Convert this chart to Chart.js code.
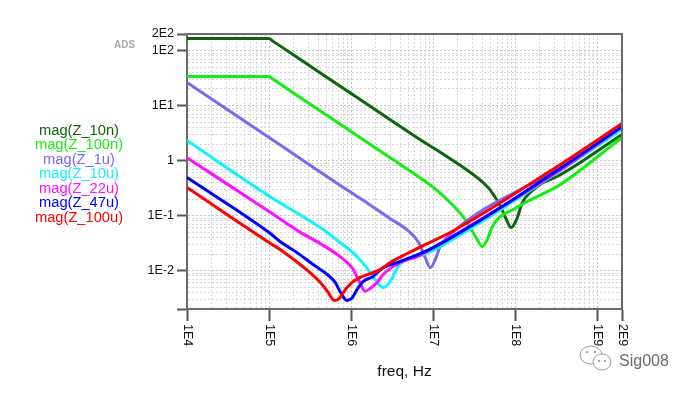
<!DOCTYPE html>
<html>
<head>
<meta charset="utf-8">
<script src="https://cdn.jsdelivr.net/npm/chart.js@4.4.1/dist/chart.umd.min.js"></script>
<style>
  html, body { margin: 0; padding: 0; background: #ffffff; }
  #wrap { width: 692px; height: 394px; }
</style>
</head>
<body>
<div id="wrap"><canvas id="chart" width="692" height="394"></canvas></div>
<script>
/* ADS style |Z| plot of decoupling caps */

// Trace names + colors (legend order)
const traceNames = ["mag(Z_10n)", "mag(Z_100n)", "mag(Z_1u)", "mag(Z_10u)", "mag(Z_22u)", "mag(Z_47u)", "mag(Z_100u)"];
const traceColors = ["#0d640d", "#12ee12", "#7b68ee", "#10f2ff", "#ff10ff", "#0000ff", "#ff0000"];

// freq (Hz) and |Z| (ohm)
const freq10n = [1e4, 1e5, 1.1e5, 3e5, 1e6, 3e6, 6.9e6, 1.22e7, 2.13e7, 3.44e7, 4.96e7, 6.56e7, 7.56e7, 8.94e7, 1.06e8, 1.22e8, 1.52e8, 2.19e8, 3.25e8, 2e9];
const mag10n = [165, 165, 150, 55, 16.5, 5.5, 2.41, 1.42, 0.82, 0.49, 0.29, 0.15, 0.094, 0.0605, 0.092, 0.172, 0.262, 0.398, 0.512, 2.97];

const freq100n = [1e4, 1e5, 1.1e5, 3e5, 1e6, 3e6, 6.9e6, 1.12e7, 1.75e7, 2.32e7, 2.83e7, 3.44e7, 3.96e7, 4.56e7, 5.25e7, 6.56e7, 9.46e7, 1.4e8, 2.46e8, 3.25e8, 2e9];
const mag100n = [33.7, 33.7, 30.6, 11.2, 3.37, 1.12, 0.488, 0.285, 0.152, 0.095, 0.0605, 0.0366, 0.0273, 0.0366, 0.063, 0.096, 0.129, 0.18, 0.273, 0.337, 2.62];

const freq1u = [1e4, 1e5, 1e6, 1.4e6, 2.99e6, 4.82e6, 6.66e6, 8.0e6, 9.2e6, 1.06e7, 1.22e7, 1.61e7, 3.25e8, 2e9];
const mag1u = [26.2, 2.62, 0.262, 0.19, 0.0877, 0.055, 0.0323, 0.0172, 0.0113, 0.0158, 0.0273, 0.0452, 0.686, 3.82];

const freq10u = [1e4, 1e5, 4.56e5, 7.3e5, 1.06e6, 1.4e6, 1.71e6, 2.08e6, 2.46e6, 2.99e6, 3.73e6, 4.31e6, 7.55e6, 1.22e7, 3.25e8, 2e9];
const mag10u = [2.31, 0.226, 0.0556, 0.0323, 0.021, 0.0135, 0.0092, 0.0061, 0.0049, 0.0063, 0.0118, 0.0146, 0.0195, 0.0273, 0.605, 3.66];

const freq22u = [1e4, 1e5, 2.39e5, 4.19e5, 7.3e5, 1.03e6, 1.22e6, 1.48e6, 1.71e6, 2.08e6, 2.46e6, 3.96e6, 6.4e6, 1e7, 3.25e8, 2e9];
const mag22u = [1.13, 0.118, 0.05, 0.031, 0.018, 0.0112, 0.007, 0.0042, 0.0047, 0.0061, 0.0085, 0.014, 0.018, 0.0262, 0.62, 4.15];

const freq47u = [1e4, 1e5, 1.36e5, 2.19e5, 3.44e5, 5.1e5, 6.4e5, 7.3e5, 8.5e5, 8.9e5, 1.03e6, 1.18e6, 1.4e6, 1.85e6, 2.46e6, 3.96e6, 1e7, 3.25e8, 2e9];
const mag47u = [0.491, 0.0491, 0.0337, 0.0212, 0.0129, 0.0085, 0.0061, 0.0042, 0.00297, 0.00285, 0.0032, 0.0045, 0.0063, 0.0078, 0.0113, 0.0146, 0.0262, 0.66, 4.15];

const freq100u = [1e4, 1e5, 1.36e5, 2.39e5, 3.16e5, 4.19e5, 5.25e5, 6.0e5, 6.4e5, 7.3e5, 8.5e5, 1.03e6, 1.29e6, 1.71e6, 2.26e6, 2.99e6, 4.82e6, 7.55e6, 1.61e7, 3.25e8, 2e9];
const mag100u = [0.323, 0.0323, 0.0241, 0.0129, 0.0092, 0.0061, 0.004, 0.00297, 0.00285, 0.0032, 0.0045, 0.0061, 0.0075, 0.0088, 0.0104, 0.014, 0.0204, 0.0285, 0.0491, 0.778, 4.71];

// Axis ticks (labelled ones)
const xTickValues = [1e4, 1e5, 1e6, 1e7, 1e8, 1e9, 2e9];
const xTickLabels = ["1E4", "1E5", "1E6", "1E7", "1E8", "1E9", "2E9"];
const yTickValues = [2e2, 1e2, 1e1, 1, 1e-1, 1e-2, 2e-3];
const yTickLabels = ["2E2", "1E2", "1E1", "1", "1E-1", "1E-2", ""];

const freqs = [freq10n, freq100n, freq1u, freq10u, freq22u, freq47u, freq100u];
const mags = [mag10n, mag100n, mag1u, mag10u, mag22u, mag47u, mag100u];

const FONT = '"Liberation Sans", Arial, sans-serif';

// major ticks + minor grid ticks (2..9 per decade)
function buildTicks(mainValues, mainLabels, lo, hi) {
  const list = mainValues.map((v, i) => ({ value: v, isMain: true, text: mainLabels[i] }));
  for (let e = Math.floor(Math.log10(lo)); e <= Math.ceil(Math.log10(hi)); e++) {
    for (let m = 2; m <= 9; m++) {
      const v = m * Math.pow(10, e);
      if (v <= lo * 1.0001 || v >= hi * 0.9999) continue;
      if (mainValues.some((mv) => Math.abs(mv - v) / mv < 1e-6)) continue;
      list.push({ value: v, isMain: false, text: "" });
    }
  }
  return list.sort((a, b) => a.value - b.value);
}

const xTicksAll = buildTicks(xTickValues, xTickLabels, 1e4, 2e9);
const yTicksAll = buildTicks(yTickValues, yTickLabels, 2e-3, 2e2);

// Extra drawing: frame, legend text, rotated x labels, ADS tag, watermark
const decorPlugin = {
  id: "decor",
  afterDraw(chart) {
    const { ctx, chartArea: { top, bottom, left, right } } = chart;
    const xs = chart.scales.x;
    ctx.save();

    // top + right frame
    ctx.strokeStyle = "#6b6b6b";
    ctx.lineWidth = 2;
    ctx.beginPath();
    ctx.moveTo(left, top);
    ctx.lineTo(right, top);
    ctx.lineTo(right, bottom);
    ctx.stroke();

    // x tick labels, rotated clockwise
    ctx.fillStyle = "#111";
    ctx.font = "12.5px " + FONT;
    ctx.textAlign = "left";
    ctx.textBaseline = "middle";
    xTickValues.forEach((v, i) => {
      ctx.save();
      ctx.translate(xs.getPixelForValue(v), bottom + 15);
      ctx.rotate(Math.PI / 2);
      ctx.fillText(xTickLabels[i], 0, 0);
      ctx.restore();
    });

    // legend as colored text
    ctx.font = "14.7px " + FONT;
    ctx.textAlign = "center";
    traceNames.forEach((name, i) => {
      ctx.fillStyle = traceColors[i];
      ctx.fillText(name, 79, 131 + i * 14.43);
    });

    // ADS tag
    ctx.fillStyle = "#a8a8a8";
    ctx.font = "bold 10px " + FONT;
    ctx.textAlign = "left";
    ctx.fillText("ADS", 114, 45);

    // watermark
    ctx.strokeStyle = "#9a9a9a";
    ctx.lineWidth = 1;
    ctx.beginPath();
    ctx.ellipse(591, 355, 11, 9, 0, 0, Math.PI * 2);
    ctx.stroke();
    ctx.fillStyle = "#ffffff";
    ctx.beginPath();
    ctx.ellipse(602, 362, 9, 8, 0, 0, Math.PI * 2);
    ctx.fill();
    ctx.stroke();
    ctx.fillStyle = "#888";
    [[587, 352], [595, 352], [599, 361], [605, 361]].forEach(([px, py]) => {
      ctx.beginPath();
      ctx.arc(px, py, 1, 0, Math.PI * 2);
      ctx.fill();
    });
    ctx.fillStyle = "#6a6a6a";
    ctx.font = "16px " + FONT;
    ctx.fillText("Sig008", 619, 362);

    ctx.restore();
  },
};

const datasets = traceNames.map((name, i) => ({
  label: name,
  data: freqs[i].map((f, k) => ({ x: f, y: mags[i][k] })),
  borderColor: traceColors[i],
  borderWidth: 3,
  borderJoinStyle: "round",
  pointRadius: 0,
  fill: false,
  cubicInterpolationMode: "monotone",
  order: traceNames.length - 1 - i,
}));

const gridStyle = (ctx) => (ctx.tick && ctx.tick.isMain ? "#c6c6c6" : "#d6d6d6");
const tickStyle = (ctx) => (ctx.tick && ctx.tick.isMain ? "#555555" : "rgba(0,0,0,0)");

new Chart(document.getElementById("chart").getContext("2d"), {
  type: "line",
  data: { datasets },
  options: {
    responsive: false,
    animation: false,
    layout: { padding: { top: 34, right: 70, bottom: 0, left: 0 } },
    plugins: { legend: { display: false }, tooltip: { enabled: false } },
    scales: {
      x: {
        type: "logarithmic",
        min: 1e4,
        max: 2e9,
        afterBuildTicks: (scale) => { scale.ticks = xTicksAll.map((t) => ({ ...t })); },
        afterFit: (scale) => { scale.height = 85; },
        ticks: { display: false, autoSkip: false },
        grid: { color: gridStyle, lineWidth: 1, tickLength: 12, tickColor: tickStyle, tickWidth: 2 },
        border: { display: true, color: "#6b6b6b", width: 2, dash: [2, 2] },
        title: {
          display: true,
          text: "freq, Hz",
          color: "#111",
          font: { family: FONT, size: 15.5 },
          padding: { top: 0, bottom: 13 },
        },
      },
      y: {
        type: "logarithmic",
        min: 2e-3,
        max: 2e2,
        afterBuildTicks: (scale) => { scale.ticks = yTicksAll.map((t) => ({ ...t })); },
        afterFit: (scale) => { scale.width = 187; },
        ticks: {
          autoSkip: false,
          color: "#111",
          padding: 3,
          font: { family: FONT, size: 12.5 },
          callback: (v, i, ticks) => ticks[i].text,
        },
        grid: { color: gridStyle, lineWidth: 1, tickLength: 10, tickColor: tickStyle, tickWidth: 2 },
        border: { display: true, color: "#6b6b6b", width: 2, dash: [2, 2] },
      },
    },
  },
  plugins: [decorPlugin],
});
</script>
</body>
</html>
